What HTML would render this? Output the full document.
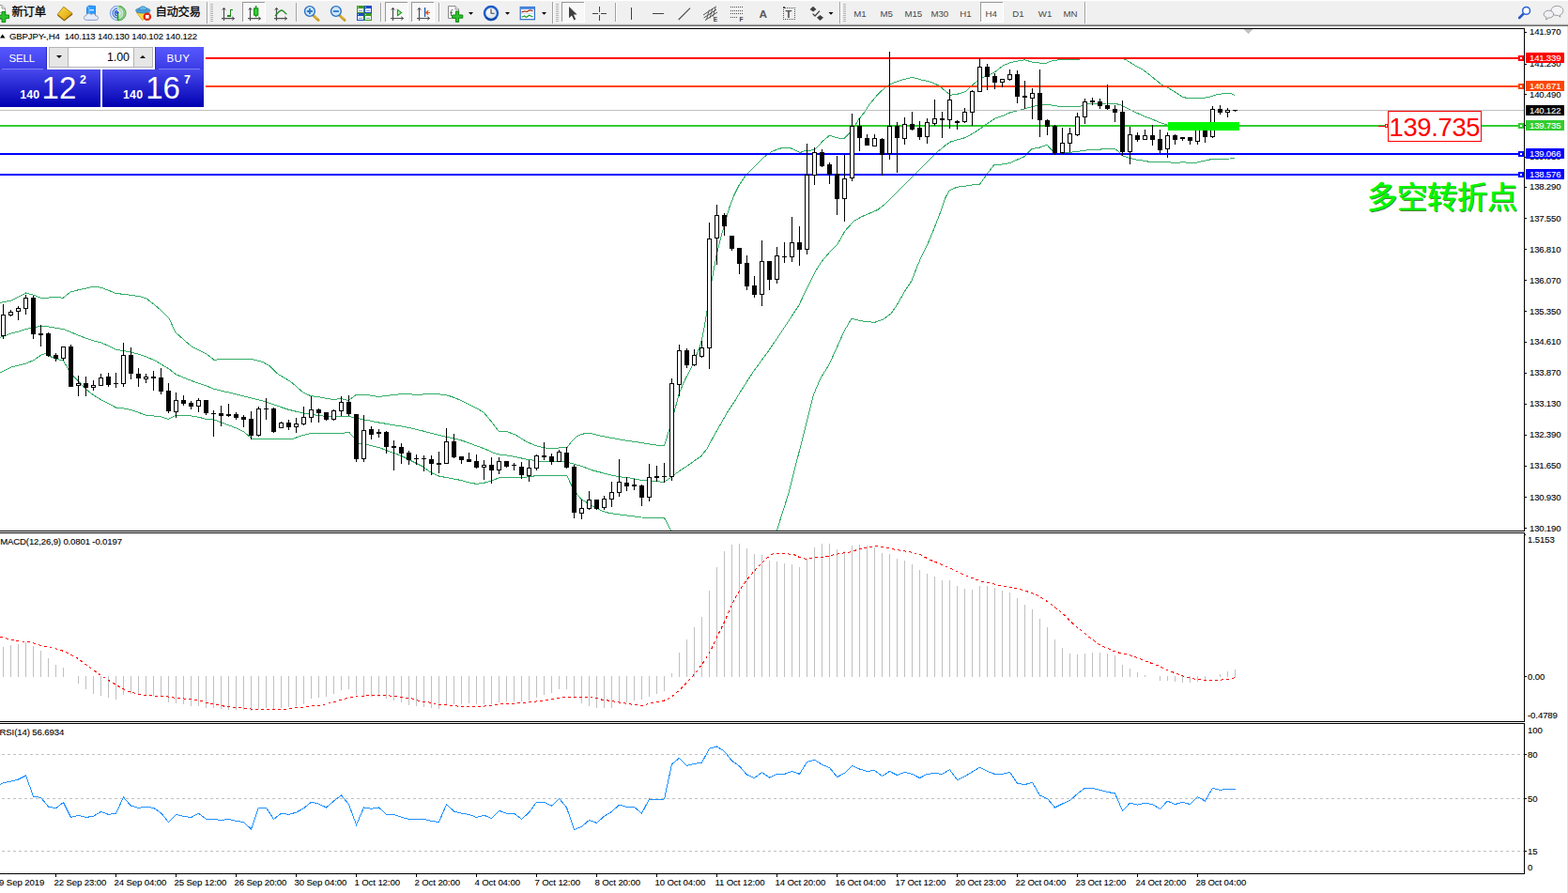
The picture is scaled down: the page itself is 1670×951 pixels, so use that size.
<!DOCTYPE html>
<html><head><meta charset="utf-8"><title>GBPJPY H4</title>
<style>
html,body{margin:0;padding:0;background:#fff;}
body{width:1670px;height:951px;position:relative;overflow:hidden;font-family:"Liberation Sans",sans-serif;}

#oct{position:absolute;left:0;top:49px;width:219px;height:65px;background:#fff;}
#oct div{position:absolute;}
.blk{background:linear-gradient(#4848ee,#0000b0);}
.up{background:linear-gradient(#5858ff,#3a3ae4);}
.w{color:#fff;white-space:nowrap;line-height:1;}

</style></head><body>
<svg width="1670" height="951" viewBox="0 0 1670 951" style="position:absolute;left:0;top:0" shape-rendering="crispEdges" font-family="Liberation Sans, sans-serif"><defs><clipPath id="mainclip"><rect x="0" y="31" width="1623" height="534"/></clipPath></defs><g clip-path="url(#mainclip)"><polyline points="0.0,322.4 12.0,320.0 20.0,316.0 27.6,312.0 36.0,314.4 43.0,317.0 52.0,317.0 60.0,316.0 67.0,317.4 75.0,311.0 84.0,308.6 92.0,307.0 100.0,305.0 108.0,306.4 116.0,309.4 123.0,312.4 132.0,313.4 140.0,314.4 150.0,316.0 156.0,318.0 164.0,324.0 172.0,331.0 180.0,339.0 187.0,354.0 196.0,362.0 204.0,369.0 212.0,373.0 220.0,377.0 228.0,383.3 236.0,382.5 252.0,382.5 268.0,382.5 280.0,385.5 287.6,390.0 295.0,397.6 302.7,402.3 310.3,407.0 317.9,413.7 323.5,418.4 331.0,421.6 340.6,423.0 348.0,424.5 355.7,425.4 363.3,424.6 370.9,426.5 374.7,424.0 379.4,420.3 388.0,420.3 395.5,421.2 403.0,422.6 412.5,421.2 420.0,420.7 427.7,419.3 435.0,419.7 442.8,420.3 450.4,420.0 458.0,419.7 469.3,420.0 477.0,421.2 484.5,423.7 492.0,427.0 499.6,430.7 507.0,434.5 514.8,438.8 522.3,447.7 530.9,459.0 539.4,459.5 548.8,462.9 560.0,470.0 570.7,474.7 577.9,476.5 586.8,477.8 595.8,476.9 603.8,476.9 609.2,469.7 613.6,465.2 619.0,462.6 624.4,461.3 629.7,461.7 636.9,463.5 649.4,466.0 660.0,468.0 670.9,469.7 683.4,471.5 694.0,473.3 703.0,474.7 707.5,475.0 712.9,457.2 718.2,438.4 723.6,417.9 730.0,403.6 738.2,387.4 746.3,366.6 749.8,350.4 753.2,329.5 757.9,299.5 763.6,269.4 765.9,260.0 771.8,238.0 776.8,221.0 781.9,207.7 786.9,197.6 793.6,187.5 800.4,180.8 807.0,174.0 813.8,167.3 822.2,161.4 829.0,158.5 835.7,157.2 842.4,158.0 847.5,160.2 851.7,162.6 857.6,160.6 864.3,160.0 869.3,158.0 876.0,150.5 883.6,144.2 891.2,146.8 898.8,147.6 904.7,142.0 909.7,135.3 914.8,126.9 921.5,118.5 925.6,111.7 934.9,100.6 944.0,92.0 952.2,87.9 962.7,84.6 971.9,82.3 981.2,85.0 990.4,87.0 999.7,90.9 1006.6,96.7 1012.4,101.3 1020.5,100.0 1028.6,97.4 1036.7,89.7 1043.7,84.0 1051.8,80.5 1059.9,76.6 1068.0,70.0 1076.0,66.6 1085.3,64.8 1091.0,63.8 1099.2,66.0 1106.7,67.0 1113.4,67.5 1120.0,65.0 1128.5,63.6 1140.0,63.5 1149.0,63.5 1152.0,62.4 1196.0,62.4 1199.0,63.6 1204.0,66.7 1210.7,70.9 1217.4,74.3 1224.0,79.3 1230.8,85.0 1237.5,90.2 1244.2,93.5 1251.0,97.7 1259.3,103.3 1266.0,104.8 1274.4,104.8 1282.8,104.4 1289.5,102.8 1296.2,100.7 1302.9,99.7 1307.9,99.4 1312.0,100.0 1315.0,101.4" fill="none" stroke="#32ac66" stroke-width="1" /><polyline points="0.0,359.5 12.0,355.0 20.0,353.0 28.0,350.4 36.0,348.6 44.0,347.4 52.0,348.0 60.0,349.4 68.0,350.6 76.0,354.0 84.0,357.3 92.0,360.3 100.0,363.0 108.0,365.0 116.0,368.5 124.0,372.5 132.0,373.5 140.0,375.3 148.0,377.3 156.0,380.0 164.0,383.5 172.0,388.0 180.0,393.0 188.0,399.0 196.0,402.3 204.0,405.5 212.0,408.3 220.0,411.0 228.0,414.3 236.0,416.3 244.0,418.0 252.0,420.0 260.0,422.0 268.0,424.0 280.0,427.0 291.4,430.7 299.0,433.5 306.5,436.0 314.0,437.9 321.7,439.6 329.2,441.0 340.6,442.6 348.0,443.4 355.7,444.0 363.3,443.4 370.9,443.4 378.4,444.9 386.0,446.8 393.6,448.0 401.0,449.6 412.5,451.5 420.0,452.8 427.7,454.0 435.0,455.3 442.8,457.2 450.4,459.0 458.0,461.0 465.5,462.9 473.0,464.8 480.7,466.3 488.3,468.0 495.8,470.4 503.4,473.3 511.0,476.0 518.5,479.0 526.0,482.4 531.8,484.0 541.3,485.2 548.8,486.5 560.0,489.0 570.7,490.6 577.9,491.5 586.8,491.5 595.8,491.5 604.7,492.4 611.8,494.2 620.8,497.0 631.5,501.0 642.2,503.7 653.0,506.4 660.0,507.8 670.9,509.0 683.4,511.4 694.0,512.3 703.0,513.0 707.5,513.2 713.8,509.0 718.2,505.5 724.5,501.0 731.6,496.5 738.8,491.2 746.8,485.8 753.0,477.8 760.2,464.4 767.4,451.8 774.5,439.3 781.7,428.6 786.8,420.0 801.8,396.6 820.3,371.2 838.9,343.4 850.4,326.0 862.0,301.8 869.0,287.9 875.9,277.5 885.0,267.0 892.0,260.0 900.0,245.9 909.4,235.5 917.5,230.9 925.6,227.4 934.9,223.4 941.8,218.0 951.0,208.9 960.3,199.6 969.6,190.4 978.9,181.0 988.0,171.9 997.4,162.6 1006.6,155.0 1012.4,151.0 1020.5,148.7 1028.6,146.4 1036.7,141.8 1043.7,137.2 1051.8,131.4 1059.9,126.0 1068.0,123.3 1076.0,119.8 1085.3,117.5 1091.0,115.9 1099.2,113.6 1110.0,111.0 1120.0,112.0 1130.0,113.7 1140.0,113.7 1150.3,113.3 1157.0,111.0 1163.7,110.8 1170.4,110.3 1178.8,110.0 1187.0,110.0 1194.0,112.0 1200.6,115.3 1207.3,118.7 1214.0,121.7 1220.7,124.6 1227.4,127.0 1234.0,130.0 1240.8,132.4 1244.2,133.4 1315.0,134.0" fill="none" stroke="#32ac66" stroke-width="1" /><polyline points="0.0,397.0 12.0,391.0 20.0,389.0 28.0,387.0 36.0,383.5 44.0,378.0 49.0,376.3 52.0,379.0 60.0,382.3 67.5,384.0 75.5,398.0 84.0,406.5 92.0,415.0 100.0,421.0 108.0,426.0 116.0,430.0 124.0,434.3 132.0,435.0 140.0,436.5 148.0,439.5 156.0,442.3 164.0,443.0 172.0,444.0 179.5,446.5 187.5,442.0 196.0,442.5 204.0,443.0 212.0,444.3 220.0,446.5 228.0,447.0 236.0,450.0 244.0,453.0 252.0,456.0 260.0,460.0 268.0,467.0 280.0,467.0 291.4,467.6 304.6,468.0 312.2,467.2 319.8,464.4 329.2,462.0 340.6,461.5 352.0,461.0 359.5,461.0 367.0,461.0 371.8,460.4 376.6,465.7 382.2,472.3 389.8,473.3 397.4,475.2 405.0,477.0 412.5,480.0 420.0,482.7 427.7,485.6 435.2,489.4 442.8,493.2 450.4,497.0 459.5,503.6 467.4,507.0 477.0,508.9 484.5,510.2 492.0,511.7 499.6,514.0 507.2,515.3 514.8,514.5 523.3,512.0 531.8,508.7 541.3,508.3 548.8,508.9 555.5,508.7 560.0,508.2 570.7,506.7 577.9,506.4 586.8,506.4 595.8,506.4 603.8,506.7 608.3,516.2 613.6,525.0 619.0,531.7 624.4,535.0 631.5,539.4 638.7,543.0 645.8,545.7 653.0,547.0 660.0,548.0 670.9,549.3 683.4,551.0 694.0,551.4 703.0,551.4 707.5,551.4 714.7,565.4" fill="none" stroke="#32ac66" stroke-width="1" /><polyline points="827.3,565.4 840.0,525.0 866.6,420.0 873.6,403.6 882.8,388.5 889.8,373.5 899.0,352.7 907.0,339.3 917.5,341.8 931.4,343.4 940.7,340.0 948.8,334.2 954.6,326.0 963.8,309.9 970.8,299.5 976.6,284.4 980.0,276.3 988.0,260.0 993.9,245.9 1002.0,225.0 1006.6,211.2 1011.3,202.6 1019.4,199.2 1028.6,198.0 1036.7,196.8 1043.7,196.0 1051.8,184.6 1058.7,175.8 1068.0,174.9 1076.0,173.5 1083.0,170.2 1091.0,166.8 1099.2,158.4 1106.7,157.3 1115.0,154.2 1121.8,161.4 1125.0,164.0 1143.6,161.8 1150.3,161.0 1158.7,159.8 1163.7,159.0 1170.4,159.3 1177.0,158.4 1187.0,158.0 1191.4,161.4 1195.6,166.0 1202.3,168.0 1209.0,169.8 1217.4,171.0 1224.0,172.3 1234.0,172.7 1244.2,172.7 1251.0,173.5 1259.3,172.8 1266.0,173.2 1274.4,173.2 1282.8,171.2 1289.5,169.8 1296.2,169.5 1303.0,169.5 1309.6,169.0 1315.0,168.0" fill="none" stroke="#32ac66" stroke-width="1" /></g><rect x="0" y="117" width="1623" height="1" fill="#c0c0c0"/><rect x="0" y="61" width="1623" height="2" fill="#ff0000"/><rect x="0" y="91" width="1623" height="2" fill="#ff4500"/><rect x="0" y="133" width="1623" height="2" fill="#32cd32"/><rect x="0" y="163" width="1623" height="2" fill="#0000ff"/><rect x="0" y="185" width="1623" height="2" fill="#0000ff"/><g fill="#000"><rect x="3" y="324" width="1" height="37"/><rect x="1" y="335" width="5" height="23"/><rect x="2" y="336" width="3" height="21" fill="#fff"/><rect x="11" y="330" width="1" height="7"/><rect x="9" y="332" width="5" height="4"/><rect x="10" y="333" width="3" height="2" fill="#fff"/><rect x="19" y="326" width="1" height="15"/><rect x="17" y="328" width="5" height="4"/><rect x="18" y="329" width="3" height="2" fill="#fff"/><rect x="27" y="314" width="1" height="21"/><rect x="25" y="317" width="5" height="12"/><rect x="26" y="318" width="3" height="10" fill="#fff"/><rect x="35" y="315" width="1" height="46"/><rect x="33" y="317" width="5" height="39"/><rect x="43" y="346" width="1" height="23"/><rect x="41" y="355" width="5" height="2"/><rect x="51" y="354" width="1" height="26"/><rect x="49" y="355" width="5" height="24"/><rect x="59" y="376" width="1" height="9"/><rect x="57" y="378" width="5" height="4"/><rect x="67" y="369" width="1" height="15"/><rect x="65" y="369" width="5" height="13"/><rect x="66" y="370" width="3" height="11" fill="#fff"/><rect x="75" y="367" width="1" height="45"/><rect x="73" y="369" width="5" height="43"/><rect x="83" y="400" width="1" height="22"/><rect x="81" y="408" width="5" height="3"/><rect x="82" y="409" width="3" height="1" fill="#fff"/><rect x="91" y="401" width="1" height="21"/><rect x="89" y="408" width="5" height="5"/><rect x="99" y="405" width="1" height="11"/><rect x="97" y="410" width="5" height="3"/><rect x="98" y="411" width="3" height="1" fill="#fff"/><rect x="107" y="398" width="1" height="13"/><rect x="105" y="402" width="5" height="9"/><rect x="106" y="403" width="3" height="7" fill="#fff"/><rect x="115" y="397" width="1" height="15"/><rect x="113" y="401" width="5" height="9"/><rect x="123" y="397" width="1" height="16"/><rect x="121" y="408" width="5" height="1"/><rect x="131" y="365" width="1" height="47"/><rect x="129" y="378" width="5" height="31"/><rect x="130" y="379" width="3" height="29" fill="#fff"/><rect x="139" y="370" width="1" height="34"/><rect x="137" y="378" width="5" height="20"/><rect x="147" y="392" width="1" height="20"/><rect x="145" y="398" width="5" height="5"/><rect x="155" y="398" width="1" height="10"/><rect x="153" y="401" width="5" height="3"/><rect x="154" y="402" width="3" height="1" fill="#fff"/><rect x="163" y="395" width="1" height="21"/><rect x="161" y="401" width="5" height="2"/><rect x="171" y="392" width="1" height="28"/><rect x="169" y="402" width="5" height="15"/><rect x="179" y="408" width="1" height="32"/><rect x="177" y="416" width="5" height="22"/><rect x="187" y="418" width="1" height="27"/><rect x="185" y="426" width="5" height="13"/><rect x="186" y="427" width="3" height="11" fill="#fff"/><rect x="195" y="421" width="1" height="11"/><rect x="193" y="426" width="5" height="4"/><rect x="203" y="427" width="1" height="9"/><rect x="201" y="429" width="5" height="4"/><rect x="211" y="424" width="1" height="15"/><rect x="209" y="426" width="5" height="7"/><rect x="210" y="427" width="3" height="5" fill="#fff"/><rect x="219" y="426" width="1" height="16"/><rect x="217" y="426" width="5" height="14"/><rect x="227" y="437" width="1" height="28"/><rect x="225" y="440" width="5" height="1"/><rect x="235" y="432" width="1" height="22"/><rect x="233" y="440" width="5" height="3"/><rect x="243" y="430" width="1" height="14"/><rect x="241" y="441" width="5" height="2"/><rect x="251" y="439" width="1" height="8"/><rect x="249" y="441" width="5" height="4"/><rect x="259" y="442" width="1" height="13"/><rect x="257" y="444" width="5" height="3"/><rect x="267" y="438" width="1" height="30"/><rect x="265" y="446" width="5" height="18"/><rect x="275" y="433" width="1" height="32"/><rect x="273" y="435" width="5" height="29"/><rect x="274" y="436" width="3" height="27" fill="#fff"/><rect x="283" y="424" width="1" height="23"/><rect x="281" y="435" width="5" height="1"/><rect x="291" y="434" width="1" height="27"/><rect x="289" y="435" width="5" height="25"/><rect x="299" y="449" width="1" height="7"/><rect x="297" y="450" width="5" height="6"/><rect x="298" y="451" width="3" height="4" fill="#fff"/><rect x="307" y="447" width="1" height="11"/><rect x="305" y="450" width="5" height="5"/><rect x="315" y="445" width="1" height="16"/><rect x="313" y="451" width="5" height="4"/><rect x="314" y="452" width="3" height="2" fill="#fff"/><rect x="323" y="433" width="1" height="20"/><rect x="321" y="444" width="5" height="8"/><rect x="322" y="445" width="3" height="6" fill="#fff"/><rect x="331" y="422" width="1" height="28"/><rect x="329" y="436" width="5" height="9"/><rect x="330" y="437" width="3" height="7" fill="#fff"/><rect x="339" y="435" width="1" height="15"/><rect x="337" y="436" width="5" height="4"/><rect x="347" y="439" width="1" height="9"/><rect x="345" y="439" width="5" height="8"/><rect x="355" y="436" width="1" height="12"/><rect x="353" y="437" width="5" height="10"/><rect x="354" y="438" width="3" height="8" fill="#fff"/><rect x="363" y="422" width="1" height="21"/><rect x="361" y="428" width="5" height="10"/><rect x="362" y="429" width="3" height="8" fill="#fff"/><rect x="371" y="421" width="1" height="22"/><rect x="369" y="428" width="5" height="13"/><rect x="379" y="441" width="1" height="51"/><rect x="377" y="441" width="5" height="48"/><rect x="387" y="442" width="1" height="50"/><rect x="385" y="458" width="5" height="31"/><rect x="386" y="459" width="3" height="29" fill="#fff"/><rect x="395" y="454" width="1" height="14"/><rect x="393" y="457" width="5" height="6"/><rect x="403" y="457" width="1" height="9"/><rect x="401" y="460" width="5" height="2"/><rect x="411" y="459" width="1" height="24"/><rect x="409" y="460" width="5" height="16"/><rect x="419" y="469" width="1" height="32"/><rect x="417" y="475" width="5" height="2"/><rect x="427" y="472" width="1" height="22"/><rect x="425" y="476" width="5" height="7"/><rect x="435" y="480" width="1" height="15"/><rect x="433" y="482" width="5" height="8"/><rect x="443" y="484" width="1" height="11"/><rect x="441" y="488" width="5" height="1"/><rect x="451" y="485" width="1" height="17"/><rect x="449" y="488" width="5" height="1"/><rect x="459" y="485" width="1" height="21"/><rect x="457" y="489" width="5" height="5"/><rect x="467" y="481" width="1" height="23"/><rect x="465" y="493" width="5" height="2"/><rect x="475" y="456" width="1" height="38"/><rect x="473" y="470" width="5" height="24"/><rect x="474" y="471" width="3" height="22" fill="#fff"/><rect x="483" y="462" width="1" height="26"/><rect x="481" y="470" width="5" height="17"/><rect x="491" y="486" width="1" height="8"/><rect x="489" y="486" width="5" height="4"/><rect x="499" y="482" width="1" height="10"/><rect x="497" y="489" width="5" height="3"/><rect x="507" y="484" width="1" height="15"/><rect x="505" y="491" width="5" height="7"/><rect x="515" y="490" width="1" height="21"/><rect x="513" y="495" width="5" height="3"/><rect x="514" y="496" width="3" height="1" fill="#fff"/><rect x="523" y="487" width="1" height="28"/><rect x="521" y="495" width="5" height="6"/><rect x="531" y="487" width="1" height="18"/><rect x="529" y="491" width="5" height="10"/><rect x="530" y="492" width="3" height="8" fill="#fff"/><rect x="539" y="491" width="1" height="7"/><rect x="537" y="491" width="5" height="6"/><rect x="547" y="493" width="1" height="8"/><rect x="545" y="495" width="5" height="1"/><rect x="555" y="492" width="1" height="18"/><rect x="553" y="497" width="5" height="9"/><rect x="563" y="490" width="1" height="23"/><rect x="561" y="498" width="5" height="9"/><rect x="562" y="499" width="3" height="7" fill="#fff"/><rect x="571" y="484" width="1" height="17"/><rect x="569" y="485" width="5" height="14"/><rect x="570" y="486" width="3" height="12" fill="#fff"/><rect x="579" y="471" width="1" height="19"/><rect x="577" y="485" width="5" height="2"/><rect x="587" y="483" width="1" height="12"/><rect x="585" y="486" width="5" height="6"/><rect x="595" y="479" width="1" height="13"/><rect x="593" y="481" width="5" height="11"/><rect x="594" y="482" width="3" height="9" fill="#fff"/><rect x="603" y="476" width="1" height="23"/><rect x="601" y="482" width="5" height="16"/><rect x="611" y="495" width="1" height="57"/><rect x="609" y="497" width="5" height="49"/><rect x="619" y="532" width="1" height="21"/><rect x="617" y="541" width="5" height="6"/><rect x="618" y="542" width="3" height="4" fill="#fff"/><rect x="627" y="523" width="1" height="20"/><rect x="625" y="532" width="5" height="10"/><rect x="626" y="533" width="3" height="8" fill="#fff"/><rect x="635" y="532" width="1" height="11"/><rect x="633" y="532" width="5" height="10"/><rect x="643" y="528" width="1" height="15"/><rect x="641" y="531" width="5" height="10"/><rect x="642" y="532" width="3" height="8" fill="#fff"/><rect x="651" y="513" width="1" height="27"/><rect x="649" y="524" width="5" height="8"/><rect x="650" y="525" width="3" height="6" fill="#fff"/><rect x="659" y="489" width="1" height="40"/><rect x="657" y="513" width="5" height="12"/><rect x="658" y="514" width="3" height="10" fill="#fff"/><rect x="667" y="508" width="1" height="15"/><rect x="665" y="514" width="5" height="4"/><rect x="675" y="510" width="1" height="12"/><rect x="673" y="516" width="5" height="2"/><rect x="683" y="516" width="1" height="23"/><rect x="681" y="517" width="5" height="13"/><rect x="691" y="494" width="1" height="40"/><rect x="689" y="508" width="5" height="22"/><rect x="690" y="509" width="3" height="20" fill="#fff"/><rect x="699" y="496" width="1" height="17"/><rect x="697" y="507" width="5" height="2"/><rect x="707" y="493" width="1" height="21"/><rect x="705" y="507" width="5" height="1"/><rect x="715" y="403" width="1" height="109"/><rect x="713" y="408" width="5" height="100"/><rect x="714" y="409" width="3" height="98" fill="#fff"/><rect x="723" y="367" width="1" height="55"/><rect x="721" y="373" width="5" height="37"/><rect x="722" y="374" width="3" height="35" fill="#fff"/><rect x="731" y="371" width="1" height="21"/><rect x="729" y="373" width="5" height="16"/><rect x="739" y="372" width="1" height="18"/><rect x="737" y="378" width="5" height="11"/><rect x="738" y="379" width="3" height="9" fill="#fff"/><rect x="747" y="363" width="1" height="18"/><rect x="745" y="370" width="5" height="10"/><rect x="746" y="371" width="3" height="8" fill="#fff"/><rect x="755" y="237" width="1" height="156"/><rect x="753" y="254" width="5" height="117"/><rect x="754" y="255" width="3" height="115" fill="#fff"/><rect x="763" y="218" width="1" height="64"/><rect x="761" y="229" width="5" height="25"/><rect x="762" y="230" width="3" height="23" fill="#fff"/><rect x="771" y="227" width="1" height="24"/><rect x="769" y="229" width="5" height="12"/><rect x="779" y="251" width="1" height="16"/><rect x="777" y="251" width="5" height="14"/><rect x="787" y="264" width="1" height="28"/><rect x="785" y="264" width="5" height="17"/><rect x="795" y="272" width="1" height="37"/><rect x="793" y="280" width="5" height="25"/><rect x="803" y="294" width="1" height="23"/><rect x="801" y="304" width="5" height="10"/><rect x="811" y="256" width="1" height="70"/><rect x="809" y="278" width="5" height="36"/><rect x="810" y="279" width="3" height="34" fill="#fff"/><rect x="819" y="278" width="1" height="31"/><rect x="817" y="278" width="5" height="20"/><rect x="827" y="263" width="1" height="39"/><rect x="825" y="272" width="5" height="26"/><rect x="826" y="273" width="3" height="24" fill="#fff"/><rect x="835" y="258" width="1" height="22"/><rect x="833" y="273" width="5" height="1"/><rect x="843" y="231" width="1" height="48"/><rect x="841" y="258" width="5" height="16"/><rect x="842" y="259" width="3" height="14" fill="#fff"/><rect x="851" y="241" width="1" height="42"/><rect x="849" y="258" width="5" height="8"/><rect x="859" y="153" width="1" height="118"/><rect x="857" y="186" width="5" height="80"/><rect x="858" y="187" width="3" height="78" fill="#fff"/><rect x="867" y="157" width="1" height="40"/><rect x="865" y="162" width="5" height="25"/><rect x="866" y="163" width="3" height="23" fill="#fff"/><rect x="875" y="159" width="1" height="19"/><rect x="873" y="162" width="5" height="15"/><rect x="883" y="173" width="1" height="23"/><rect x="881" y="175" width="5" height="11"/><rect x="891" y="166" width="1" height="63"/><rect x="889" y="185" width="5" height="27"/><rect x="899" y="165" width="1" height="71"/><rect x="897" y="190" width="5" height="22"/><rect x="898" y="191" width="3" height="20" fill="#fff"/><rect x="907" y="121" width="1" height="72"/><rect x="905" y="134" width="5" height="56"/><rect x="906" y="135" width="3" height="54" fill="#fff"/><rect x="915" y="126" width="1" height="35"/><rect x="913" y="134" width="5" height="13"/><rect x="923" y="143" width="1" height="12"/><rect x="921" y="147" width="5" height="8"/><rect x="931" y="143" width="1" height="13"/><rect x="929" y="147" width="5" height="9"/><rect x="930" y="148" width="3" height="7" fill="#fff"/><rect x="939" y="147" width="1" height="40"/><rect x="937" y="148" width="5" height="17"/><rect x="947" y="55" width="1" height="115"/><rect x="945" y="134" width="5" height="30"/><rect x="946" y="135" width="3" height="28" fill="#fff"/><rect x="955" y="130" width="1" height="54"/><rect x="953" y="134" width="5" height="13"/><rect x="963" y="125" width="1" height="29"/><rect x="961" y="132" width="5" height="16"/><rect x="962" y="133" width="3" height="14" fill="#fff"/><rect x="971" y="119" width="1" height="20"/><rect x="969" y="132" width="5" height="6"/><rect x="979" y="129" width="1" height="20"/><rect x="977" y="136" width="5" height="10"/><rect x="987" y="126" width="1" height="27"/><rect x="985" y="130" width="5" height="16"/><rect x="986" y="131" width="3" height="14" fill="#fff"/><rect x="995" y="106" width="1" height="28"/><rect x="993" y="126" width="5" height="6"/><rect x="994" y="127" width="3" height="4" fill="#fff"/><rect x="1003" y="119" width="1" height="28"/><rect x="1001" y="126" width="5" height="2"/><rect x="1011" y="95" width="1" height="42"/><rect x="1009" y="106" width="5" height="22"/><rect x="1010" y="107" width="3" height="20" fill="#fff"/><rect x="1019" y="128" width="1" height="10"/><rect x="1017" y="129" width="5" height="2"/><rect x="1027" y="115" width="1" height="16"/><rect x="1025" y="119" width="5" height="11"/><rect x="1026" y="120" width="3" height="9" fill="#fff"/><rect x="1035" y="96" width="1" height="38"/><rect x="1033" y="97" width="5" height="23"/><rect x="1034" y="98" width="3" height="21" fill="#fff"/><rect x="1043" y="62" width="1" height="36"/><rect x="1041" y="71" width="5" height="27"/><rect x="1042" y="72" width="3" height="25" fill="#fff"/><rect x="1051" y="68" width="1" height="28"/><rect x="1049" y="71" width="5" height="11"/><rect x="1059" y="78" width="1" height="17"/><rect x="1057" y="81" width="5" height="7"/><rect x="1067" y="84" width="1" height="9"/><rect x="1065" y="84" width="5" height="4"/><rect x="1066" y="85" width="3" height="2" fill="#fff"/><rect x="1075" y="74" width="1" height="12"/><rect x="1073" y="79" width="5" height="6"/><rect x="1074" y="80" width="3" height="4" fill="#fff"/><rect x="1083" y="75" width="1" height="35"/><rect x="1081" y="79" width="5" height="24"/><rect x="1091" y="86" width="1" height="30"/><rect x="1089" y="102" width="5" height="2"/><rect x="1099" y="94" width="1" height="33"/><rect x="1097" y="99" width="5" height="6"/><rect x="1098" y="100" width="3" height="4" fill="#fff"/><rect x="1107" y="74" width="1" height="72"/><rect x="1105" y="99" width="5" height="29"/><rect x="1115" y="127" width="1" height="17"/><rect x="1113" y="128" width="5" height="7"/><rect x="1123" y="133" width="1" height="32"/><rect x="1121" y="134" width="5" height="29"/><rect x="1131" y="136" width="1" height="28"/><rect x="1129" y="152" width="5" height="11"/><rect x="1130" y="153" width="3" height="9" fill="#fff"/><rect x="1139" y="136" width="1" height="26"/><rect x="1137" y="142" width="5" height="11"/><rect x="1138" y="143" width="3" height="9" fill="#fff"/><rect x="1147" y="120" width="1" height="25"/><rect x="1145" y="124" width="5" height="20"/><rect x="1146" y="125" width="3" height="18" fill="#fff"/><rect x="1155" y="105" width="1" height="27"/><rect x="1153" y="108" width="5" height="17"/><rect x="1154" y="109" width="3" height="15" fill="#fff"/><rect x="1163" y="104" width="1" height="8"/><rect x="1161" y="107" width="5" height="2"/><rect x="1171" y="105" width="1" height="11"/><rect x="1169" y="108" width="5" height="5"/><rect x="1179" y="90" width="1" height="27"/><rect x="1177" y="112" width="5" height="4"/><rect x="1187" y="112" width="1" height="18"/><rect x="1185" y="116" width="5" height="4"/><rect x="1195" y="107" width="1" height="59"/><rect x="1193" y="119" width="5" height="43"/><rect x="1203" y="135" width="1" height="40"/><rect x="1201" y="143" width="5" height="19"/><rect x="1202" y="144" width="3" height="17" fill="#fff"/><rect x="1211" y="141" width="1" height="10"/><rect x="1209" y="144" width="5" height="5"/><rect x="1219" y="138" width="1" height="11"/><rect x="1217" y="144" width="5" height="5"/><rect x="1218" y="145" width="3" height="3" fill="#fff"/><rect x="1227" y="133" width="1" height="22"/><rect x="1225" y="144" width="5" height="5"/><rect x="1235" y="138" width="1" height="25"/><rect x="1233" y="148" width="5" height="12"/><rect x="1243" y="141" width="1" height="27"/><rect x="1241" y="144" width="5" height="15"/><rect x="1242" y="145" width="3" height="13" fill="#fff"/><rect x="1251" y="143" width="1" height="11"/><rect x="1249" y="144" width="5" height="5"/><rect x="1259" y="146" width="1" height="4"/><rect x="1257" y="146" width="5" height="2"/><rect x="1267" y="146" width="1" height="8"/><rect x="1265" y="146" width="5" height="4"/><rect x="1275" y="136" width="1" height="18"/><rect x="1273" y="137" width="5" height="14"/><rect x="1274" y="138" width="3" height="12" fill="#fff"/><rect x="1283" y="136" width="1" height="16"/><rect x="1281" y="137" width="5" height="9"/><rect x="1291" y="113" width="1" height="34"/><rect x="1289" y="116" width="5" height="30"/><rect x="1290" y="117" width="3" height="28" fill="#fff"/><rect x="1299" y="112" width="1" height="10"/><rect x="1297" y="116" width="5" height="4"/><rect x="1307" y="115" width="1" height="10"/><rect x="1305" y="117" width="5" height="3"/><rect x="1306" y="118" width="3" height="1" fill="#fff"/><rect x="1315" y="117" width="1" height="2"/><rect x="1313" y="117" width="5" height="1"/></g><rect x="1244" y="130" width="76" height="9" fill="#00f800"/><g fill="#c0c0c0"><rect x="3" y="689" width="1" height="32"/><rect x="11" y="687" width="1" height="34"/><rect x="19" y="686" width="1" height="35"/><rect x="27" y="684" width="1" height="37"/><rect x="35" y="688" width="1" height="33"/><rect x="43" y="693" width="1" height="28"/><rect x="51" y="701" width="1" height="20"/><rect x="59" y="708" width="1" height="13"/><rect x="67" y="711" width="1" height="10"/><rect x="83" y="720" width="1" height="8"/><rect x="91" y="720" width="1" height="14"/><rect x="99" y="720" width="1" height="19"/><rect x="107" y="720" width="1" height="21"/><rect x="115" y="720" width="1" height="23"/><rect x="123" y="720" width="1" height="25"/><rect x="131" y="720" width="1" height="20"/><rect x="139" y="720" width="1" height="19"/><rect x="147" y="720" width="1" height="19"/><rect x="155" y="720" width="1" height="20"/><rect x="163" y="720" width="1" height="21"/><rect x="171" y="720" width="1" height="22"/><rect x="179" y="720" width="1" height="28"/><rect x="187" y="720" width="1" height="29"/><rect x="195" y="720" width="1" height="30"/><rect x="203" y="720" width="1" height="32"/><rect x="211" y="720" width="1" height="32"/><rect x="219" y="720" width="1" height="34"/><rect x="227" y="720" width="1" height="34"/><rect x="235" y="720" width="1" height="35"/><rect x="243" y="720" width="1" height="36"/><rect x="251" y="720" width="1" height="36"/><rect x="259" y="720" width="1" height="36"/><rect x="267" y="720" width="1" height="37"/><rect x="275" y="720" width="1" height="35"/><rect x="283" y="720" width="1" height="34"/><rect x="291" y="720" width="1" height="35"/><rect x="299" y="720" width="1" height="34"/><rect x="307" y="720" width="1" height="33"/><rect x="315" y="720" width="1" height="32"/><rect x="323" y="720" width="1" height="30"/><rect x="331" y="720" width="1" height="24"/><rect x="339" y="720" width="1" height="23"/><rect x="347" y="720" width="1" height="22"/><rect x="355" y="720" width="1" height="19"/><rect x="363" y="720" width="1" height="15"/><rect x="371" y="720" width="1" height="14"/><rect x="379" y="720" width="1" height="20"/><rect x="387" y="720" width="1" height="22"/><rect x="395" y="720" width="1" height="22"/><rect x="403" y="720" width="1" height="22"/><rect x="411" y="720" width="1" height="24"/><rect x="419" y="720" width="1" height="26"/><rect x="427" y="720" width="1" height="28"/><rect x="435" y="720" width="1" height="31"/><rect x="443" y="720" width="1" height="32"/><rect x="451" y="720" width="1" height="33"/><rect x="459" y="720" width="1" height="34"/><rect x="467" y="720" width="1" height="35"/><rect x="475" y="720" width="1" height="31"/><rect x="483" y="720" width="1" height="30"/><rect x="491" y="720" width="1" height="30"/><rect x="499" y="720" width="1" height="29"/><rect x="507" y="720" width="1" height="30"/><rect x="515" y="720" width="1" height="30"/><rect x="523" y="720" width="1" height="30"/><rect x="531" y="720" width="1" height="28"/><rect x="539" y="720" width="1" height="27"/><rect x="547" y="720" width="1" height="27"/><rect x="555" y="720" width="1" height="27"/><rect x="563" y="720" width="1" height="26"/><rect x="571" y="720" width="1" height="23"/><rect x="579" y="720" width="1" height="20"/><rect x="587" y="720" width="1" height="18"/><rect x="595" y="720" width="1" height="14"/><rect x="603" y="720" width="1" height="14"/><rect x="611" y="720" width="1" height="24"/><rect x="619" y="720" width="1" height="29"/><rect x="627" y="720" width="1" height="32"/><rect x="635" y="720" width="1" height="34"/><rect x="643" y="720" width="1" height="34"/><rect x="651" y="720" width="1" height="34"/><rect x="659" y="720" width="1" height="30"/><rect x="667" y="720" width="1" height="28"/><rect x="675" y="720" width="1" height="26"/><rect x="683" y="720" width="1" height="25"/><rect x="691" y="720" width="1" height="22"/><rect x="699" y="720" width="1" height="19"/><rect x="707" y="720" width="1" height="16"/><rect x="715" y="717" width="1" height="4"/><rect x="723" y="695" width="1" height="26"/><rect x="731" y="681" width="1" height="40"/><rect x="739" y="668" width="1" height="53"/><rect x="747" y="657" width="1" height="64"/><rect x="755" y="629" width="1" height="92"/><rect x="763" y="604" width="1" height="117"/><rect x="771" y="587" width="1" height="134"/><rect x="779" y="580" width="1" height="141"/><rect x="787" y="579" width="1" height="142"/><rect x="795" y="584" width="1" height="137"/><rect x="803" y="590" width="1" height="131"/><rect x="811" y="591" width="1" height="130"/><rect x="819" y="597" width="1" height="124"/><rect x="827" y="598" width="1" height="123"/><rect x="835" y="600" width="1" height="121"/><rect x="843" y="601" width="1" height="120"/><rect x="851" y="604" width="1" height="117"/><rect x="859" y="595" width="1" height="126"/><rect x="867" y="583" width="1" height="138"/><rect x="875" y="579" width="1" height="142"/><rect x="883" y="579" width="1" height="142"/><rect x="891" y="585" width="1" height="136"/><rect x="899" y="587" width="1" height="134"/><rect x="907" y="581" width="1" height="140"/><rect x="915" y="580" width="1" height="141"/><rect x="923" y="581" width="1" height="140"/><rect x="931" y="583" width="1" height="138"/><rect x="939" y="589" width="1" height="132"/><rect x="947" y="590" width="1" height="131"/><rect x="955" y="595" width="1" height="126"/><rect x="963" y="597" width="1" height="124"/><rect x="971" y="601" width="1" height="120"/><rect x="979" y="607" width="1" height="114"/><rect x="987" y="611" width="1" height="110"/><rect x="995" y="614" width="1" height="107"/><rect x="1003" y="618" width="1" height="103"/><rect x="1011" y="618" width="1" height="103"/><rect x="1019" y="624" width="1" height="97"/><rect x="1027" y="627" width="1" height="94"/><rect x="1035" y="628" width="1" height="93"/><rect x="1043" y="624" width="1" height="97"/><rect x="1051" y="624" width="1" height="97"/><rect x="1059" y="626" width="1" height="95"/><rect x="1067" y="629" width="1" height="92"/><rect x="1075" y="631" width="1" height="90"/><rect x="1083" y="637" width="1" height="84"/><rect x="1091" y="644" width="1" height="77"/><rect x="1099" y="649" width="1" height="72"/><rect x="1107" y="659" width="1" height="62"/><rect x="1115" y="668" width="1" height="53"/><rect x="1123" y="681" width="1" height="40"/><rect x="1131" y="690" width="1" height="31"/><rect x="1139" y="696" width="1" height="25"/><rect x="1147" y="697" width="1" height="24"/><rect x="1155" y="696" width="1" height="25"/><rect x="1163" y="695" width="1" height="26"/><rect x="1171" y="695" width="1" height="26"/><rect x="1179" y="696" width="1" height="25"/><rect x="1187" y="698" width="1" height="23"/><rect x="1195" y="708" width="1" height="13"/><rect x="1203" y="712" width="1" height="9"/><rect x="1211" y="716" width="1" height="5"/><rect x="1219" y="719" width="1" height="2"/><rect x="1235" y="720" width="1" height="5"/><rect x="1243" y="720" width="1" height="5"/><rect x="1251" y="720" width="1" height="6"/><rect x="1259" y="720" width="1" height="7"/><rect x="1267" y="720" width="1" height="7"/><rect x="1275" y="720" width="1" height="6"/><rect x="1283" y="720" width="1" height="6"/><rect x="1299" y="718" width="1" height="3"/><rect x="1307" y="715" width="1" height="6"/><rect x="1315" y="713" width="1" height="8"/></g><polyline points="0.0,678.0 9.0,680.5 20.3,682.5 34.0,684.3 40.7,686.6 49.7,688.9 58.8,690.7 67.8,693.4 74.6,696.8 81.4,700.2 90.4,707.0 99.5,713.7 108.5,720.0 117.6,725.7 126.6,731.0 135.6,735.9 144.7,738.6 153.7,740.2 162.8,740.9 176.3,741.5 185.4,743.0 194.4,743.8 203.5,745.0 212.5,746.0 221.5,748.8 230.6,750.6 239.6,752.2 248.7,753.3 257.7,754.0 266.8,755.0 275.8,755.0 294.0,755.0 307.5,755.0 316.5,753.7 325.5,752.8 334.6,751.7 339.0,751.5 348.0,749.5 357.0,747.6 364.0,744.9 375.2,742.4 386.5,741.3 397.8,740.4 411.4,740.4 418.2,741.5 429.5,742.7 440.8,744.3 447.6,747.0 456.6,748.0 470.0,750.6 483.7,751.5 490.5,752.6 506.3,752.6 524.4,751.5 533.5,749.9 547.0,749.2 560.6,748.3 569.6,747.2 578.7,746.0 592.2,743.8 601.3,742.4 614.8,742.0 630.7,742.0 639.7,744.9 651.0,746.5 660.0,748.0 671.3,749.9 682.6,751.5 693.9,748.8 705.2,747.0 714.3,743.0 723.3,735.2 732.3,726.2 741.4,716.0 750.4,703.6 757.2,692.3 764.0,677.6 770.8,664.0 777.6,648.2 784.3,634.6 791.0,623.3 797.9,614.3 807.0,604.0 816.0,595.0 822.8,590.0 834.0,589.4 845.4,590.5 852.2,593.9 859.0,595.5 868.0,593.9 877.0,593.5 886.0,591.2 895.0,589.4 904.2,588.3 913.2,585.5 922.2,583.3 931.3,581.5 942.6,582.6 951.6,584.9 960.7,586.5 972.0,588.3 981.0,591.0 990.0,596.0 999.0,599.6 1008.0,603.4 1017.0,607.5 1026.0,612.0 1035.2,615.4 1044.3,618.8 1053.3,620.6 1064.6,623.3 1075.9,625.6 1087.2,627.8 1098.5,631.2 1107.6,635.3 1116.6,641.4 1125.6,648.2 1134.7,656.0 1143.7,665.0 1152.8,672.6 1161.8,679.8 1170.9,686.6 1179.9,690.7 1189.0,694.5 1198.0,696.3 1207.0,699.0 1216.0,702.4 1225.0,705.8 1234.0,709.2 1243.2,713.7 1252.2,717.0 1261.3,720.5 1270.3,722.8 1279.4,723.9 1293.0,725.0 1302.0,723.9 1311.0,722.8 1315.0,721.6" fill="none" stroke="#ff0000" stroke-width="1" stroke-dasharray="3 3"/><line x1="2" y1="803.5" x2="1623" y2="803.5" stroke="#c0c0c0" stroke-width="1" stroke-dasharray="3 3"/><line x1="2" y1="850.5" x2="1623" y2="850.5" stroke="#c0c0c0" stroke-width="1" stroke-dasharray="3 3"/><line x1="2" y1="906.5" x2="1623" y2="906.5" stroke="#c0c0c0" stroke-width="1" stroke-dasharray="3 3"/><polyline points="-4.5,838.5 3.5,833.6 11.5,832.2 19.5,830.0 27.5,826.0 35.5,848.0 43.5,849.5 51.5,859.0 59.5,860.7 67.5,854.6 75.5,870.5 83.5,868.2 91.5,870.5 99.5,869.2 107.5,864.4 115.5,867.4 123.5,866.2 131.5,849.0 139.5,858.2 147.5,860.3 155.5,859.3 163.5,860.3 171.5,865.8 179.5,875.5 187.5,867.4 195.5,869.4 203.5,870.5 211.5,866.2 219.5,872.3 227.5,872.3 235.5,873.5 243.5,872.3 251.5,874.3 259.5,875.5 267.5,883.0 275.5,860.0 283.5,860.0 291.5,872.5 299.5,866.2 307.5,867.4 315.5,865.2 323.5,860.7 331.5,854.2 339.5,856.2 347.5,860.0 355.5,853.0 363.5,847.0 371.5,856.6 379.5,878.4 387.5,860.0 395.5,861.3 403.5,860.0 411.5,867.2 419.5,867.4 427.5,870.3 435.5,872.3 443.5,872.3 451.5,872.3 459.5,874.3 467.5,875.5 475.5,856.6 483.5,864.0 491.5,866.2 499.5,867.4 507.5,870.5 515.5,868.2 523.5,871.5 531.5,863.3 539.5,866.2 547.5,866.2 555.5,872.3 563.5,865.2 571.5,854.2 579.5,854.2 587.5,858.2 595.5,850.5 603.5,860.0 611.5,883.5 619.5,880.4 627.5,873.3 635.5,876.4 643.5,869.2 651.5,864.4 659.5,857.2 667.5,859.3 675.5,859.3 683.5,866.2 691.5,851.0 699.5,851.5 707.5,851.0 715.5,813.9 723.5,807.3 731.5,815.3 739.5,813.3 747.5,812.2 755.5,797.2 763.5,795.0 771.5,800.2 779.5,810.2 787.5,815.9 795.5,825.0 803.5,828.5 811.5,822.6 819.5,828.0 827.5,824.4 835.5,824.4 843.5,821.4 851.5,824.4 859.5,811.4 867.5,809.2 875.5,814.3 883.5,817.5 891.5,827.5 899.5,823.4 907.5,815.3 915.5,819.0 923.5,821.4 931.5,820.4 939.5,826.5 947.5,821.4 955.5,825.5 963.5,822.4 971.5,824.4 979.5,828.5 987.5,824.4 995.5,823.4 1003.5,824.4 1011.5,819.6 1019.5,830.6 1027.5,826.7 1035.5,822.0 1043.5,817.3 1051.5,821.4 1059.5,824.4 1067.5,824.4 1075.5,822.4 1083.5,834.2 1091.5,835.6 1099.5,833.2 1107.5,847.0 1115.5,850.5 1123.5,860.0 1131.5,856.0 1139.5,852.5 1147.5,845.4 1155.5,839.3 1163.5,839.3 1171.5,841.3 1179.5,843.4 1187.5,845.0 1195.5,863.3 1203.5,855.2 1211.5,857.2 1219.5,855.2 1227.5,856.6 1235.5,861.3 1243.5,853.2 1251.5,856.6 1259.5,854.2 1267.5,856.6 1275.5,848.5 1283.5,853.2 1291.5,839.3 1299.5,841.3 1307.5,840.3 1315.5,840.3" fill="none" stroke="#1e90ff" stroke-width="1" /><rect x="0" y="30" width="1624" height="1" fill="#000"/><rect x="1623" y="30" width="1" height="901" fill="#000"/><rect x="0" y="565" width="1624" height="1" fill="#000"/><rect x="0" y="567" width="1624" height="1" fill="#000"/><rect x="0" y="768" width="1624" height="1" fill="#000"/><rect x="0" y="770" width="1624" height="1" fill="#000"/><rect x="0" y="930" width="1624" height="1" fill="#000"/><rect x="1623" y="566" width="1" height="1" fill="#fff"/><rect x="1623" y="769" width="1" height="1" fill="#fff"/><polygon points="1324,31 1334,31 1329,36" fill="#c0c0c0"/><rect x="1669" y="28" width="1" height="923" fill="#e3e3e3"/><rect x="1624" y="34" width="2" height="1" fill="#000"/><text x="1629" y="37.4" fill="#000" font-size="9.6" text-anchor="start" font-weight="normal" letter-spacing="-0.2" stroke="#000" stroke-width="0.1">141.970</text><rect x="1624" y="68" width="2" height="1" fill="#000"/><text x="1629" y="71.0" fill="#000" font-size="9.6" text-anchor="start" font-weight="normal" letter-spacing="-0.2" stroke="#000" stroke-width="0.1">141.230</text><rect x="1624" y="100" width="2" height="1" fill="#000"/><text x="1629" y="103.5" fill="#000" font-size="9.6" text-anchor="start" font-weight="normal" letter-spacing="-0.2" stroke="#000" stroke-width="0.1">140.490</text><rect x="1624" y="133" width="2" height="1" fill="#000"/><text x="1629" y="136.8" fill="#000" font-size="9.6" text-anchor="start" font-weight="normal" letter-spacing="-0.2" stroke="#000" stroke-width="0.1">139.750</text><rect x="1624" y="167" width="2" height="1" fill="#000"/><text x="1629" y="170.0" fill="#000" font-size="9.6" text-anchor="start" font-weight="normal" letter-spacing="-0.2" stroke="#000" stroke-width="0.1">139.010</text><rect x="1624" y="199" width="2" height="1" fill="#000"/><text x="1629" y="202.4" fill="#000" font-size="9.6" text-anchor="start" font-weight="normal" letter-spacing="-0.2" stroke="#000" stroke-width="0.1">138.290</text><rect x="1624" y="232" width="2" height="1" fill="#000"/><text x="1629" y="235.5" fill="#000" font-size="9.6" text-anchor="start" font-weight="normal" letter-spacing="-0.2" stroke="#000" stroke-width="0.1">137.550</text><rect x="1624" y="265" width="2" height="1" fill="#000"/><text x="1629" y="268.5" fill="#000" font-size="9.6" text-anchor="start" font-weight="normal" letter-spacing="-0.2" stroke="#000" stroke-width="0.1">136.810</text><rect x="1624" y="298" width="2" height="1" fill="#000"/><text x="1629" y="301.5" fill="#000" font-size="9.6" text-anchor="start" font-weight="normal" letter-spacing="-0.2" stroke="#000" stroke-width="0.1">136.070</text><rect x="1624" y="331" width="2" height="1" fill="#000"/><text x="1629" y="334.8" fill="#000" font-size="9.6" text-anchor="start" font-weight="normal" letter-spacing="-0.2" stroke="#000" stroke-width="0.1">135.350</text><rect x="1624" y="364" width="2" height="1" fill="#000"/><text x="1629" y="367.2" fill="#000" font-size="9.6" text-anchor="start" font-weight="normal" letter-spacing="-0.2" stroke="#000" stroke-width="0.1">134.610</text><rect x="1624" y="397" width="2" height="1" fill="#000"/><text x="1629" y="400.3" fill="#000" font-size="9.6" text-anchor="start" font-weight="normal" letter-spacing="-0.2" stroke="#000" stroke-width="0.1">133.870</text><rect x="1624" y="430" width="2" height="1" fill="#000"/><text x="1629" y="433.3" fill="#000" font-size="9.6" text-anchor="start" font-weight="normal" letter-spacing="-0.2" stroke="#000" stroke-width="0.1">133.130</text><rect x="1624" y="463" width="2" height="1" fill="#000"/><text x="1629" y="466.3" fill="#000" font-size="9.6" text-anchor="start" font-weight="normal" letter-spacing="-0.2" stroke="#000" stroke-width="0.1">132.390</text><rect x="1624" y="496" width="2" height="1" fill="#000"/><text x="1629" y="499.3" fill="#000" font-size="9.6" text-anchor="start" font-weight="normal" letter-spacing="-0.2" stroke="#000" stroke-width="0.1">131.650</text><rect x="1624" y="529" width="2" height="1" fill="#000"/><text x="1629" y="532.5" fill="#000" font-size="9.6" text-anchor="start" font-weight="normal" letter-spacing="-0.2" stroke="#000" stroke-width="0.1">130.930</text><rect x="1624" y="562" width="2" height="1" fill="#000"/><text x="1629" y="565.7" fill="#000" font-size="9.6" text-anchor="start" font-weight="normal" letter-spacing="-0.2" stroke="#000" stroke-width="0.1">130.190</text><text x="1627" y="578.1" fill="#000" font-size="9.6" text-anchor="start" font-weight="normal" letter-spacing="-0.1" stroke="#000" stroke-width="0.1">1.5153</text><text x="1627" y="724.3" fill="#000" font-size="9.6" text-anchor="start" font-weight="normal" letter-spacing="-0.1" stroke="#000" stroke-width="0.1">0.00</text><text x="1627" y="765.4" fill="#000" font-size="9.6" text-anchor="start" font-weight="normal" letter-spacing="-0.1" stroke="#000" stroke-width="0.1">-0.4789</text><rect x="1624" y="720" width="2" height="1" fill="#000"/><rect x="1624" y="569" width="1" height="1" fill="#000"/><text x="1627" y="781.1" fill="#000" font-size="9.6" text-anchor="start" font-weight="normal" letter-spacing="-0.1" stroke="#000" stroke-width="0.1">100</text><text x="1627" y="807.0" fill="#000" font-size="9.6" text-anchor="start" font-weight="normal" letter-spacing="-0.1" stroke="#000" stroke-width="0.1">80</text><text x="1627" y="854.1999999999999" fill="#000" font-size="9.6" text-anchor="start" font-weight="normal" letter-spacing="-0.1" stroke="#000" stroke-width="0.1">50</text><text x="1627" y="910.0" fill="#000" font-size="9.6" text-anchor="start" font-weight="normal" letter-spacing="-0.1" stroke="#000" stroke-width="0.1">15</text><text x="1627" y="927.1" fill="#000" font-size="9.6" text-anchor="start" font-weight="normal" letter-spacing="-0.1" stroke="#000" stroke-width="0.1">0</text><rect x="1624" y="803" width="2" height="1" fill="#000"/><rect x="1624" y="850" width="2" height="1" fill="#000"/><rect x="1624" y="906" width="2" height="1" fill="#000"/><rect x="1617" y="59" width="6" height="6" fill="#ff0000"/><rect x="1619" y="61" width="2" height="2" fill="#fff"/><rect x="1625" y="56" width="41" height="11" fill="#ff0000"/><text x="1629" y="65.3" fill="#fff" font-size="9.6" text-anchor="start" font-weight="normal" letter-spacing="-0.2" stroke="#fff" stroke-width="0.1">141.339</text><rect x="1617" y="89" width="6" height="6" fill="#ff4500"/><rect x="1619" y="91" width="2" height="2" fill="#fff"/><rect x="1625" y="86" width="41" height="11" fill="#ff4500"/><text x="1629" y="95.3" fill="#fff" font-size="9.6" text-anchor="start" font-weight="normal" letter-spacing="-0.2" stroke="#fff" stroke-width="0.1">140.671</text><rect x="1625" y="112" width="41" height="11" fill="#000"/><text x="1629" y="121.3" fill="#fff" font-size="9.6" text-anchor="start" font-weight="normal" letter-spacing="-0.2" stroke="#fff" stroke-width="0.1">140.122</text><rect x="1617" y="131" width="6" height="6" fill="#32cd32"/><rect x="1619" y="133" width="2" height="2" fill="#fff"/><rect x="1625" y="128" width="41" height="11" fill="#32cd32"/><text x="1629" y="137.3" fill="#fff" font-size="9.6" text-anchor="start" font-weight="normal" letter-spacing="-0.2" stroke="#fff" stroke-width="0.1">139.735</text><rect x="1617" y="161" width="6" height="6" fill="#0000ff"/><rect x="1619" y="163" width="2" height="2" fill="#fff"/><rect x="1625" y="158" width="41" height="11" fill="#0000ff"/><text x="1629" y="167.3" fill="#fff" font-size="9.6" text-anchor="start" font-weight="normal" letter-spacing="-0.2" stroke="#fff" stroke-width="0.1">139.066</text><rect x="1617" y="183" width="6" height="6" fill="#0000ff"/><rect x="1619" y="185" width="2" height="2" fill="#fff"/><rect x="1625" y="180" width="41" height="11" fill="#0000ff"/><text x="1629" y="189.3" fill="#fff" font-size="9.6" text-anchor="start" font-weight="normal" letter-spacing="-0.2" stroke="#fff" stroke-width="0.1">138.576</text><rect x="1468" y="134" width="8" height="1" fill="#ff0000"/><rect x="1475" y="132" width="3" height="4" fill="#ff0000"/><rect x="1476" y="133" width="1" height="2" fill="#fff"/><rect x="1478" y="118" width="100" height="33" fill="#ff0000"/><rect x="1479" y="119" width="98" height="31" fill="#fff"/><text x="1479.6" y="144.7" fill="#ff0000" font-size="27.4" text-anchor="start" font-weight="normal" letter-spacing="-0.35">139.735</text><rect x="59" y="931" width="1" height="3" fill="#000"/><text x="57.4" y="943.2" fill="#000" font-size="9.6" text-anchor="start" font-weight="normal" letter-spacing="-0.1" stroke="#000" stroke-width="0.1">22 Sep 23:00</text><rect x="123" y="931" width="1" height="3" fill="#000"/><text x="121.4" y="943.2" fill="#000" font-size="9.6" text-anchor="start" font-weight="normal" letter-spacing="-0.1" stroke="#000" stroke-width="0.1">24 Sep 04:00</text><rect x="187" y="931" width="1" height="3" fill="#000"/><text x="185.4" y="943.2" fill="#000" font-size="9.6" text-anchor="start" font-weight="normal" letter-spacing="-0.1" stroke="#000" stroke-width="0.1">25 Sep 12:00</text><rect x="251" y="931" width="1" height="3" fill="#000"/><text x="249.4" y="943.2" fill="#000" font-size="9.6" text-anchor="start" font-weight="normal" letter-spacing="-0.1" stroke="#000" stroke-width="0.1">26 Sep 20:00</text><rect x="315" y="931" width="1" height="3" fill="#000"/><text x="313.4" y="943.2" fill="#000" font-size="9.6" text-anchor="start" font-weight="normal" letter-spacing="-0.1" stroke="#000" stroke-width="0.1">30 Sep 04:00</text><rect x="379" y="931" width="1" height="3" fill="#000"/><text x="377.4" y="943.2" fill="#000" font-size="9.6" text-anchor="start" font-weight="normal" letter-spacing="-0.1" stroke="#000" stroke-width="0.1">1 Oct 12:00</text><rect x="443" y="931" width="1" height="3" fill="#000"/><text x="441.4" y="943.2" fill="#000" font-size="9.6" text-anchor="start" font-weight="normal" letter-spacing="-0.1" stroke="#000" stroke-width="0.1">2 Oct 20:00</text><rect x="507" y="931" width="1" height="3" fill="#000"/><text x="505.4" y="943.2" fill="#000" font-size="9.6" text-anchor="start" font-weight="normal" letter-spacing="-0.1" stroke="#000" stroke-width="0.1">4 Oct 04:00</text><rect x="571" y="931" width="1" height="3" fill="#000"/><text x="569.4" y="943.2" fill="#000" font-size="9.6" text-anchor="start" font-weight="normal" letter-spacing="-0.1" stroke="#000" stroke-width="0.1">7 Oct 12:00</text><rect x="635" y="931" width="1" height="3" fill="#000"/><text x="633.4" y="943.2" fill="#000" font-size="9.6" text-anchor="start" font-weight="normal" letter-spacing="-0.1" stroke="#000" stroke-width="0.1">8 Oct 20:00</text><rect x="699" y="931" width="1" height="3" fill="#000"/><text x="697.4" y="943.2" fill="#000" font-size="9.6" text-anchor="start" font-weight="normal" letter-spacing="-0.1" stroke="#000" stroke-width="0.1">10 Oct 04:00</text><rect x="763" y="931" width="1" height="3" fill="#000"/><text x="761.4" y="943.2" fill="#000" font-size="9.6" text-anchor="start" font-weight="normal" letter-spacing="-0.1" stroke="#000" stroke-width="0.1">11 Oct 12:00</text><rect x="827" y="931" width="1" height="3" fill="#000"/><text x="825.4" y="943.2" fill="#000" font-size="9.6" text-anchor="start" font-weight="normal" letter-spacing="-0.1" stroke="#000" stroke-width="0.1">14 Oct 20:00</text><rect x="891" y="931" width="1" height="3" fill="#000"/><text x="889.4" y="943.2" fill="#000" font-size="9.6" text-anchor="start" font-weight="normal" letter-spacing="-0.1" stroke="#000" stroke-width="0.1">16 Oct 04:00</text><rect x="955" y="931" width="1" height="3" fill="#000"/><text x="953.4" y="943.2" fill="#000" font-size="9.6" text-anchor="start" font-weight="normal" letter-spacing="-0.1" stroke="#000" stroke-width="0.1">17 Oct 12:00</text><rect x="1019" y="931" width="1" height="3" fill="#000"/><text x="1017.4" y="943.2" fill="#000" font-size="9.6" text-anchor="start" font-weight="normal" letter-spacing="-0.1" stroke="#000" stroke-width="0.1">20 Oct 23:00</text><rect x="1083" y="931" width="1" height="3" fill="#000"/><text x="1081.4" y="943.2" fill="#000" font-size="9.6" text-anchor="start" font-weight="normal" letter-spacing="-0.1" stroke="#000" stroke-width="0.1">22 Oct 04:00</text><rect x="1147" y="931" width="1" height="3" fill="#000"/><text x="1145.4" y="943.2" fill="#000" font-size="9.6" text-anchor="start" font-weight="normal" letter-spacing="-0.1" stroke="#000" stroke-width="0.1">23 Oct 12:00</text><rect x="1211" y="931" width="1" height="3" fill="#000"/><text x="1209.4" y="943.2" fill="#000" font-size="9.6" text-anchor="start" font-weight="normal" letter-spacing="-0.1" stroke="#000" stroke-width="0.1">24 Oct 20:00</text><rect x="1275" y="931" width="1" height="3" fill="#000"/><text x="1273.4" y="943.2" fill="#000" font-size="9.6" text-anchor="start" font-weight="normal" letter-spacing="-0.1" stroke="#000" stroke-width="0.1">28 Oct 04:00</text><text x="-6.2" y="943.2" fill="#000" font-size="9.6" text-anchor="start" font-weight="normal" letter-spacing="-0.1" stroke="#000" stroke-width="0.1">19 Sep 2019</text><text x="10" y="41.8" fill="#000" font-size="9.6" text-anchor="start" font-weight="normal" letter-spacing="-0.15" stroke="#000" stroke-width="0.1">GBPJPY-,H4&#160;&#160;140.113 140.130 140.102 140.122</text><polygon points="0,40.5 5.5,40.5 2.7,36.5" fill="#000" shape-rendering="auto"/><text x="0.2" y="579.6" fill="#000" font-size="9.6" text-anchor="start" font-weight="normal" letter-spacing="-0.15" stroke="#000" stroke-width="0.1">MACD(12,26,9) 0.0801 -0.0197</text><text x="-0.5" y="782.6" fill="#000" font-size="9.6" text-anchor="start" font-weight="normal" letter-spacing="-0.12" stroke="#000" stroke-width="0.1">RSI(14) 56.6934</text><g fill="#28600c" shape-rendering="auto" opacity="0.8"><text x="1457.1 1489.1 1521.1 1553.1 1585.1" y="223.0" font-size="32.4" font-family="'Liberation Sans', 'Noto Sans CJK SC', sans-serif">多空转折点</text></g><g fill="#00f800" shape-rendering="auto" ><text x="1455.4 1487.4 1519.4 1551.4 1583.4" y="222.3" font-size="32.4" font-family="'Liberation Sans', 'Noto Sans CJK SC', sans-serif">多空转折点</text></g><g fill="#00f800" shape-rendering="auto" ><text x="1456.4 1488.4 1520.4 1552.4 1584.4" y="222.3" font-size="32.4" font-family="'Liberation Sans', 'Noto Sans CJK SC', sans-serif">多空转折点</text></g><g shape-rendering="auto"></g></svg>
<svg width="1670" height="28" viewBox="0 0 1670 28" style="position:absolute;left:0;top:0" shape-rendering="crispEdges" font-family="Liberation Sans, sans-serif"><rect x="0" y="0" width="1670" height="1" fill="#fff"/><rect x="0" y="1" width="1670" height="25" fill="#f0f0f0"/><rect x="0" y="25" width="1670" height="1" fill="#e4e4e4"/><rect x="0" y="26" width="1670" height="1" fill="#a6a6a6"/><rect x="0" y="27" width="1670" height="1" fill="#6a6a6a"/><g shape-rendering="auto"><path d="M-4,5.5H2L5.5,9V20.5H-4Z" fill="#fff" stroke="#9a9a9a" stroke-width="1"/><path d="M2,5.5V9H5.5" fill="#e8e8e8" stroke="#9a9a9a" stroke-width="1"/><rect x="-1" y="13" width="5" height="1" fill="#b0b0b0"/><path d="M2,12.5H5.8V16H9.6V19.6H5.8V23.6H2V19.6H-2V16H2Z" fill="#2fc02f" stroke="#0f8a0f" stroke-width="1"/><g fill="#000" shape-rendering="auto" stroke="#000" stroke-width="0.27"><text x="12.5 24.6 36.7" y="16.9" font-size="12.4" font-family="'Liberation Sans', 'Noto Sans CJK SC', sans-serif">新订单</text></g><defs><linearGradient id="gold" x1="0" y1="0" x2="1" y2="1"><stop offset="0" stop-color="#f8dc50"/><stop offset="0.6" stop-color="#e8b820"/><stop offset="1" stop-color="#b88010"/></linearGradient></defs><path d="M67.8,7.2L77.2,14.4L68.4,21.6L61.2,15.4Z" fill="url(#gold)" stroke="#b07c10" stroke-width="0.9"/><path d="M61.4,16L68.4,21.9L77,15" fill="none" stroke="#8a5c08" stroke-width="1.1"/><path d="M92.5,7.5L95,6L101.5,6.5V16.5H92.5Z" fill="#2a9bff" stroke="#1a78e0" stroke-width="0.8"/><rect x="95.5" y="10" width="4.5" height="1.4" fill="#d8ecff"/><path d="M92.5,7.5L95,8.2V16.5" stroke="#8fd0ff" stroke-width="0.8" fill="none"/><path d="M92.5,21.4C88.5,21.4 88.3,16.8 91.8,16.6C92.2,13.8 96.2,13.6 97,15.6C98.4,13.8 101.8,14.6 101.7,16.8C105.4,16.6 105.6,21.4 102,21.4Z" fill="#e6ecf8" stroke="#7b93c4" stroke-width="0.9"/><g fill="none"><circle cx="125" cy="14" r="7.8" fill="#e9f0f4" stroke="none"/><path d="M125,6.4A7.6,7.6 0 0 0 125,21.6" stroke="#86a6e6" stroke-width="1.3"/><path d="M125,9A5,5 0 0 0 125,19" stroke="#4a78dc" stroke-width="1.3"/><path d="M125,11.3A2.7,2.7 0 0 0 125,16.7" stroke="#2a5fd0" stroke-width="1.2"/><path d="M125.4,7A7,7 0 0 1 125.8,21" stroke="#86c886" stroke-width="2.6"/><path d="M125.4,10A4,4 0 0 1 125.8,18" stroke="#b4dcb4" stroke-width="2.4"/><path d="M127,6.4A7.7,7.7 0 0 1 125.8,21.8" stroke="#4aa84a" stroke-width="1"/></g><circle cx="125" cy="13.6" r="1.7" fill="#2058d0"/><rect x="124.7" y="14.2" width="1.6" height="7.8" fill="#22a022"/><path d="M145.4,13.4H159.4L155,19L151.6,21.4Z" fill="#f8d840" stroke="#c89a18" stroke-width="0.8"/><ellipse cx="152.3" cy="11.2" rx="7.8" ry="2.9" fill="#4aa0d8" stroke="#2a78b0" stroke-width="0.7"/><path d="M148,10.8C148,5.4 156.4,5.4 156.4,10.8Z" fill="#6ab8e8" stroke="#2a78b0" stroke-width="0.7"/><circle cx="156.8" cy="17.8" r="4.3" fill="#e02810"/><rect x="155" y="16" width="3.6" height="3.6" fill="#fff"/><g fill="#000" shape-rendering="auto" stroke="#000" stroke-width="0.27"><text x="165.4 177.4 189.4 201.4" y="16.9" font-size="12.4" font-family="'Liberation Sans', 'Noto Sans CJK SC', sans-serif">自动交易</text></g></g><rect x="220" y="2" width="1" height="23" fill="#a0a0a0"/><rect x="221" y="2" width="1" height="23" fill="#fff"/><rect x="224" y="4" width="3" height="1" fill="#b4b4b4"/><rect x="224" y="6" width="3" height="1" fill="#b4b4b4"/><rect x="224" y="8" width="3" height="1" fill="#b4b4b4"/><rect x="224" y="10" width="3" height="1" fill="#b4b4b4"/><rect x="224" y="12" width="3" height="1" fill="#b4b4b4"/><rect x="224" y="14" width="3" height="1" fill="#b4b4b4"/><rect x="224" y="16" width="3" height="1" fill="#b4b4b4"/><rect x="224" y="18" width="3" height="1" fill="#b4b4b4"/><rect x="224" y="20" width="3" height="1" fill="#b4b4b4"/><rect x="224" y="22" width="3" height="1" fill="#b4b4b4"/><g shape-rendering="auto"><g stroke="#505050" stroke-width="1.2" fill="none"><path d="M238.5,8.5V22M236,19.7H249.5"/><path d="M236.7,10.6L238.5,8.3L240.3,10.6M247.2,17.9L249.6,19.7L247.2,21.5" stroke-width="1"/></g><path d="M245.3,9.5V17.6M242.3,17H245.3M245.3,10.2H248.3" stroke="#1a8a1a" stroke-width="1.2" fill="none" shape-rendering="crispEdges"/></g><rect x="258" y="2" width="25" height="22" fill="#f8f8f8"/><rect x="258" y="2" width="25" height="1" fill="#989898"/><rect x="258" y="2" width="1" height="22" fill="#989898"/><rect x="258" y="23" width="25" height="1" fill="#fff"/><rect x="282" y="2" width="1" height="22" fill="#fff"/><g shape-rendering="auto"><g stroke="#505050" stroke-width="1.2" fill="none"><path d="M266.5,8.5V22M264,19.7H277.5"/><path d="M264.7,10.6L266.5,8.3L268.3,10.6M275.2,17.9L277.6,19.7L275.2,21.5" stroke-width="1"/></g><path d="M272.7,6V18.2" stroke="#0a7a0a" stroke-width="1.2"/><rect x="270.6" y="8.8" width="4.2" height="7.4" fill="#30d030" stroke="#0a8a0a" stroke-width="1"/><g stroke="#505050" stroke-width="1.2" fill="none"><path d="M294.5,8.5V22M292,19.7H305.5"/><path d="M292.7,10.6L294.5,8.3L296.3,10.6M303.2,17.9L305.6,19.7L303.2,21.5" stroke-width="1"/></g><path d="M293,17C296,14 297.5,11 300,11C302,11 303.5,14 305.3,15.2" stroke="#1a8a1a" stroke-width="1.3" fill="none"/></g><rect x="315" y="3" width="1" height="20" fill="#a0a0a0"/><rect x="316" y="3" width="1" height="20" fill="#fff"/><g shape-rendering="auto"><path d="M333.9,16.4L339.09999999999997,21.4" stroke="#c89818" stroke-width="2.8" stroke-linecap="round"/><path d="M334.29999999999995,16L338.5,20.2" stroke="#f0d060" stroke-width="1"/><circle cx="329.9" cy="12" r="5.4" fill="#cfe6fa" stroke="#2a6fc4" stroke-width="1.4"/><path d="M326.9,12H332.9M329.9,9V15" stroke="#2a78c8" stroke-width="1.8"/></g><g shape-rendering="auto"><path d="M361.9,16.4L367.09999999999997,21.4" stroke="#c89818" stroke-width="2.8" stroke-linecap="round"/><path d="M362.29999999999995,16L366.5,20.2" stroke="#f0d060" stroke-width="1"/><circle cx="357.9" cy="12" r="5.4" fill="#cfe6fa" stroke="#2a6fc4" stroke-width="1.4"/><path d="M354.9,12H360.9" stroke="#2a78c8" stroke-width="1.8"/></g><g><rect x="380" y="6" width="8" height="8" fill="#3c9a1c"/><rect x="388" y="6" width="8" height="8" fill="#1c4cc8"/><rect x="380" y="14" width="8" height="8" fill="#1c4cc8"/><rect x="388" y="14" width="8" height="8" fill="#3c9a1c"/><rect x="381" y="9" width="6" height="4" fill="#fff" opacity="0.9"/><rect x="382" y="11" width="4" height="1" fill="#88a8e0"/><rect x="381" y="7" width="1" height="1" fill="#fff" opacity="0.7"/><rect x="389" y="9" width="6" height="4" fill="#fff" opacity="0.9"/><rect x="390" y="11" width="4" height="1" fill="#88a8e0"/><rect x="389" y="7" width="1" height="1" fill="#fff" opacity="0.7"/><rect x="381" y="17" width="6" height="4" fill="#fff" opacity="0.9"/><rect x="382" y="19" width="4" height="1" fill="#88a8e0"/><rect x="381" y="15" width="1" height="1" fill="#fff" opacity="0.7"/><rect x="389" y="17" width="6" height="4" fill="#fff" opacity="0.9"/><rect x="390" y="19" width="4" height="1" fill="#88a8e0"/><rect x="389" y="15" width="1" height="1" fill="#fff" opacity="0.7"/></g><rect x="405" y="3" width="1" height="20" fill="#a0a0a0"/><rect x="406" y="3" width="1" height="20" fill="#fff"/><rect x="410" y="2" width="25" height="22" fill="#f8f8f8"/><rect x="410" y="2" width="25" height="1" fill="#989898"/><rect x="410" y="2" width="1" height="22" fill="#989898"/><rect x="410" y="23" width="25" height="1" fill="#fff"/><rect x="434" y="2" width="1" height="22" fill="#fff"/><g shape-rendering="auto"><g stroke="#505050" stroke-width="1.2" fill="none"><path d="M418.5,8.5V22M416,19.5H429.5"/><path d="M416.7,10.6L418.5,8.3L420.3,10.6M427.2,17.7L429.6,19.5L427.2,21.3" stroke-width="1"/></g><path d="M423.4,10.4L427.6,13.5L423.4,16.6Z" fill="#b8f0b8" stroke="#1a9a1a" stroke-width="1.1"/></g><rect x="438" y="2" width="25" height="22" fill="#f8f8f8"/><rect x="438" y="2" width="25" height="1" fill="#989898"/><rect x="438" y="2" width="1" height="22" fill="#989898"/><rect x="438" y="23" width="25" height="1" fill="#fff"/><rect x="462" y="2" width="1" height="22" fill="#fff"/><g shape-rendering="auto"><g stroke="#505050" stroke-width="1.2" fill="none"><path d="M446.5,8.5V22M444,19.5H457.5"/><path d="M444.7,10.6L446.5,8.3L448.3,10.6M455.2,17.7L457.6,19.5L455.2,21.3" stroke-width="1"/></g><path d="M452.6,8V18" stroke="#1a5fb4" stroke-width="1.4"/><path d="M458,13.5H454.2M456.2,11.2L453.8,13.5L456.2,15.8" stroke="#e05010" stroke-width="1.2" fill="none"/></g><rect x="467" y="3" width="1" height="20" fill="#a0a0a0"/><rect x="468" y="3" width="1" height="20" fill="#fff"/><g shape-rendering="auto"><path d="M477.5,6.5H485L488.5,10V19.5H477.5Z" fill="#fff" stroke="#8a8a8a" stroke-width="1"/><path d="M485,6.5V10H488.5" fill="#eee" stroke="#8a8a8a" stroke-width="0.9"/><path d="M482.5,10.5C481,10 480.4,11 480.4,12.4V17M479.2,13.4H482" stroke="#606060" stroke-width="1" fill="none"/><path d="M485.4,12H488.6V16H492.8V19.2H488.6V23.4H485.4V19.2H481.6V16H485.4Z" fill="#2fc02f" stroke="#0f8a0f" stroke-width="1"/></g><polygon points="499,13 504,13 501.5,15.8" fill="#000" shape-rendering="auto"/><g shape-rendering="auto"><defs><radialGradient id="clk" cx="0.4" cy="0.35" r="0.7"><stop offset="0" stop-color="#fff"/><stop offset="1" stop-color="#d0d8e8"/></radialGradient></defs><circle cx="523" cy="14" r="7" fill="url(#clk)" stroke="#1a5cc8" stroke-width="2.4"/><path d="M523,9.6V14.2H526.6" stroke="#404040" stroke-width="1.1" fill="none"/><path d="M517.6,18.6A7,7 0 0 0 528.6,18.4" stroke="#0a3a98" stroke-width="2.4" fill="none" opacity="0.55"/></g><polygon points="538,13 543,13 540.5,15.8" fill="#000" shape-rendering="auto"/><g shape-rendering="auto"><rect x="554.2" y="7.5" width="15.2" height="13.2" fill="#fff" stroke="#2a6ad0" stroke-width="1.2"/><rect x="554.2" y="7.5" width="15.2" height="2.4" fill="#4a8ae0"/><path d="M555,14.4H569" stroke="#b8d0f0" stroke-width="0.8"/><path d="M555.6,12.8L559,11.8L561,12.6L564,11L567.6,11.6" stroke="#a83010" stroke-width="1.2" fill="none"/><path d="M555.6,18.2L558.6,17L560.6,18.4L563.6,16.2L567.6,18" stroke="#1a9a2a" stroke-width="1.2" fill="none"/></g><polygon points="577,13 582,13 579.5,15.8" fill="#000" shape-rendering="auto"/><rect x="588" y="2" width="1" height="23" fill="#a0a0a0"/><rect x="589" y="2" width="1" height="23" fill="#fff"/><rect x="592" y="4" width="3" height="1" fill="#b4b4b4"/><rect x="592" y="6" width="3" height="1" fill="#b4b4b4"/><rect x="592" y="8" width="3" height="1" fill="#b4b4b4"/><rect x="592" y="10" width="3" height="1" fill="#b4b4b4"/><rect x="592" y="12" width="3" height="1" fill="#b4b4b4"/><rect x="592" y="14" width="3" height="1" fill="#b4b4b4"/><rect x="592" y="16" width="3" height="1" fill="#b4b4b4"/><rect x="592" y="18" width="3" height="1" fill="#b4b4b4"/><rect x="592" y="20" width="3" height="1" fill="#b4b4b4"/><rect x="592" y="22" width="3" height="1" fill="#b4b4b4"/><rect x="598" y="2" width="25" height="22" fill="#f8f8f8"/><rect x="598" y="2" width="25" height="1" fill="#989898"/><rect x="598" y="2" width="1" height="22" fill="#989898"/><rect x="598" y="23" width="25" height="1" fill="#fff"/><rect x="622" y="2" width="1" height="22" fill="#fff"/><g shape-rendering="auto"><path d="M606,7V19.2L609,16.4L611.4,21.4L613.2,20.5L610.9,15.6L614.6,15.4Z" fill="#404040"/></g><g fill="#404040"><rect x="638" y="7" width="1" height="6"/><rect x="638" y="16" width="1" height="6"/><rect x="631" y="14" width="6" height="1"/><rect x="640" y="14" width="6" height="1"/><rect x="638" y="14" width="1" height="1" fill="#b0b0a0"/></g><rect x="655" y="3" width="1" height="20" fill="#a0a0a0"/><rect x="656" y="3" width="1" height="20" fill="#fff"/><rect x="672" y="8" width="1" height="13" fill="#404040"/><rect x="695" y="14" width="12" height="1" fill="#404040"/><g shape-rendering="auto" stroke="#505050" fill="none"><path d="M722.7,21L735,8.6" stroke-width="1.2"/><path d="M749,16L761.6,7.6M749.6,19L763,10.2M751,21.6L764,13" stroke-width="1"/><path d="M752.6,20.4L755.4,10.6M756,19.4L758.8,9M759.4,17.6L762.4,6.6" stroke-width="0.9"/></g><text x="759.8" y="23.2" font-size="6.5" font-weight="bold" fill="#404040" shape-rendering="auto">E</text><rect x="778" y="7" width="1" height="1" fill="#505050"/><rect x="780" y="7" width="1" height="1" fill="#505050"/><rect x="782" y="7" width="1" height="1" fill="#505050"/><rect x="784" y="7" width="1" height="1" fill="#505050"/><rect x="786" y="7" width="1" height="1" fill="#505050"/><rect x="788" y="7" width="1" height="1" fill="#505050"/><rect x="790" y="7" width="1" height="1" fill="#505050"/><rect x="778" y="11" width="1" height="1" fill="#505050"/><rect x="780" y="11" width="1" height="1" fill="#505050"/><rect x="782" y="11" width="1" height="1" fill="#505050"/><rect x="784" y="11" width="1" height="1" fill="#505050"/><rect x="786" y="11" width="1" height="1" fill="#505050"/><rect x="788" y="11" width="1" height="1" fill="#505050"/><rect x="790" y="11" width="1" height="1" fill="#505050"/><rect x="778" y="14" width="1" height="1" fill="#505050"/><rect x="780" y="14" width="1" height="1" fill="#505050"/><rect x="782" y="14" width="1" height="1" fill="#505050"/><rect x="784" y="14" width="1" height="1" fill="#505050"/><rect x="786" y="14" width="1" height="1" fill="#505050"/><rect x="788" y="14" width="1" height="1" fill="#505050"/><rect x="790" y="14" width="1" height="1" fill="#505050"/><rect x="778" y="18" width="1" height="1" fill="#505050"/><rect x="780" y="18" width="1" height="1" fill="#505050"/><rect x="782" y="18" width="1" height="1" fill="#505050"/><rect x="784" y="18" width="1" height="1" fill="#505050"/><text x="787.6" y="23.2" font-size="6.5" font-weight="bold" fill="#404040" shape-rendering="auto">F</text><text x="808.6" y="19" font-size="11.8" font-weight="bold" fill="#585858">A</text><rect x="834" y="8" width="1" height="1" fill="#505050"/><rect x="834" y="20" width="1" height="1" fill="#505050"/><rect x="836" y="8" width="1" height="1" fill="#505050"/><rect x="836" y="20" width="1" height="1" fill="#505050"/><rect x="838" y="8" width="1" height="1" fill="#505050"/><rect x="838" y="20" width="1" height="1" fill="#505050"/><rect x="840" y="8" width="1" height="1" fill="#505050"/><rect x="840" y="20" width="1" height="1" fill="#505050"/><rect x="842" y="8" width="1" height="1" fill="#505050"/><rect x="842" y="20" width="1" height="1" fill="#505050"/><rect x="844" y="8" width="1" height="1" fill="#505050"/><rect x="844" y="20" width="1" height="1" fill="#505050"/><rect x="846" y="8" width="1" height="1" fill="#505050"/><rect x="846" y="20" width="1" height="1" fill="#505050"/><rect x="834" y="8" width="1" height="1" fill="#505050"/><rect x="846" y="8" width="1" height="1" fill="#505050"/><rect x="834" y="10" width="1" height="1" fill="#505050"/><rect x="846" y="10" width="1" height="1" fill="#505050"/><rect x="834" y="12" width="1" height="1" fill="#505050"/><rect x="846" y="12" width="1" height="1" fill="#505050"/><rect x="834" y="14" width="1" height="1" fill="#505050"/><rect x="846" y="14" width="1" height="1" fill="#505050"/><rect x="834" y="16" width="1" height="1" fill="#505050"/><rect x="846" y="16" width="1" height="1" fill="#505050"/><rect x="834" y="18" width="1" height="1" fill="#505050"/><rect x="846" y="18" width="1" height="1" fill="#505050"/><rect x="834" y="20" width="1" height="1" fill="#505050"/><rect x="846" y="20" width="1" height="1" fill="#505050"/><text x="836.6" y="19" font-size="11" font-weight="bold" fill="#505050" shape-rendering="auto">T</text><rect x="834" y="7" width="2" height="2" fill="#505050"/><g shape-rendering="auto" fill="#404040"><path d="M866,6.8L869.4,10L866,12.6L862.6,10Z"/><path d="M873.4,16L877,18.8L873.4,22L870,18.8Z"/><path d="M865.6,14.6L868,17L873,11.6" stroke="#404040" stroke-width="1.3" fill="none"/></g><polygon points="882.5,13 887.5,13 885.0,15.8" fill="#000" shape-rendering="auto"/><rect x="894" y="2" width="1" height="23" fill="#a0a0a0"/><rect x="895" y="2" width="1" height="23" fill="#fff"/><rect x="898" y="4" width="3" height="1" fill="#b4b4b4"/><rect x="898" y="6" width="3" height="1" fill="#b4b4b4"/><rect x="898" y="8" width="3" height="1" fill="#b4b4b4"/><rect x="898" y="10" width="3" height="1" fill="#b4b4b4"/><rect x="898" y="12" width="3" height="1" fill="#b4b4b4"/><rect x="898" y="14" width="3" height="1" fill="#b4b4b4"/><rect x="898" y="16" width="3" height="1" fill="#b4b4b4"/><rect x="898" y="18" width="3" height="1" fill="#b4b4b4"/><rect x="898" y="20" width="3" height="1" fill="#b4b4b4"/><rect x="898" y="22" width="3" height="1" fill="#b4b4b4"/><rect x="1044" y="2" width="25" height="22" fill="#f8f8f8"/><rect x="1044" y="2" width="25" height="1" fill="#989898"/><rect x="1044" y="2" width="1" height="22" fill="#989898"/><rect x="1044" y="23" width="25" height="1" fill="#fff"/><rect x="1068" y="2" width="1" height="22" fill="#fff"/><text x="909.2" y="17.8" font-size="9.7" fill="#484848">M1</text><text x="937.5" y="17.8" font-size="9.7" fill="#484848">M5</text><text x="963.4" y="17.8" font-size="9.7" fill="#484848">M15</text><text x="991.4" y="17.8" font-size="9.7" fill="#484848">M30</text><text x="1022.3" y="17.8" font-size="9.7" fill="#484848">H1</text><text x="1049.4" y="17.8" font-size="9.7" fill="#484848">H4</text><text x="1078.2" y="17.8" font-size="9.7" fill="#484848">D1</text><text x="1105.8" y="17.8" font-size="9.7" fill="#484848">W1</text><text x="1132.4" y="17.8" font-size="9.7" fill="#484848">MN</text><rect x="1155" y="2" width="1" height="23" fill="#a0a0a0"/><rect x="1156" y="2" width="1" height="23" fill="#fff"/><g shape-rendering="auto"><path d="M1622.6,14.6L1618.2,19" stroke="#2a58c8" stroke-width="2.6" stroke-linecap="round"/><circle cx="1625.6" cy="11.4" r="3.9" fill="#fff" stroke="#2a5fd8" stroke-width="1.5"/></g><g shape-rendering="auto"><path d="M1658.4,6.4C1662.4,6.4 1664.8,8.6 1664.8,11.4C1664.8,13.6 1663.4,15.2 1661.4,16L1661.8,18.2L1659.4,16.4C1654.4,16.8 1652,14.2 1652,11.4C1652,8.6 1654.6,6.4 1658.4,6.4Z" fill="#f4f4f8" stroke="#909090" stroke-width="0.9"/><path d="M1649.6,11.2C1652.6,11.2 1654.6,13 1654.6,15.2C1654.6,17.4 1652.4,19.2 1649.4,19L1646.6,21L1647.2,18.6C1645.2,17.8 1644.2,16.6 1644.2,15.2C1644.2,13 1646.4,11.2 1649.6,11.2Z" fill="#f0f0f4" stroke="#909090" stroke-width="0.9"/></g></svg>
<div id="oct">
<div class="up" style="left:0;top:1px;width:50px;height:25px;border-right:1px solid #2626c8;box-sizing:border-box"></div>
<div class="up" style="left:165px;top:1px;width:52px;height:25px;border-left:1px solid #2626c8;box-sizing:border-box"></div>
<div class="blk" style="left:0;top:25px;width:107px;height:40px"></div>
<div class="blk" style="left:109px;top:25px;width:108px;height:40px"></div>
<div style="left:2px;top:24px;width:44px;height:1px;background:#7c7cf4"></div>
<div style="left:169px;top:24px;width:44px;height:1px;background:#7c7cf4"></div>
<div class="w" style="left:9.6px;top:6.7px;font-size:11.6px;letter-spacing:-0.25px">SELL</div>
<div class="w" style="left:177.4px;top:6.7px;font-size:11.6px;letter-spacing:0.4px">BUY</div>
<div style="left:52px;top:1px;width:111px;height:22px;background:#fff;border:1px solid #b4b4b4;box-sizing:border-box"></div>
<div style="left:53px;top:2px;width:20px;height:20px;background:#e6e6e6;border-right:1px solid #b4b4b4;box-sizing:border-box"></div>
<div style="left:142px;top:2px;width:20px;height:20px;background:#e6e6e6;border-left:1px solid #b4b4b4;box-sizing:border-box"></div>
<div style="left:60px;top:10px;width:0;height:0;border-left:3px solid transparent;border-right:3px solid transparent;border-top:3px solid #000"></div>
<div style="left:149px;top:10px;width:0;height:0;border-left:3px solid transparent;border-right:3px solid transparent;border-bottom:3px solid #000"></div>
<div style="left:80px;top:6.2px;width:58px;text-align:right;font-size:12.4px;line-height:1;color:#000">1.00</div>
<div class="w" style="left:21.2px;top:45.9px;font-size:12.4px;font-weight:bold;letter-spacing:0.2px">140</div>
<div class="w" style="left:44.6px;top:27.6px;font-size:33px">12</div>
<div class="w" style="left:85px;top:30px;font-size:12.4px;font-weight:bold">2</div>
<div class="w" style="left:131px;top:45.9px;font-size:12.4px;font-weight:bold;letter-spacing:0.2px">140</div>
<div class="w" style="left:155.2px;top:27.6px;font-size:33px">16</div>
<div class="w" style="left:195.9px;top:30px;font-size:12.4px;font-weight:bold">7</div>
</div>
</body></html>
